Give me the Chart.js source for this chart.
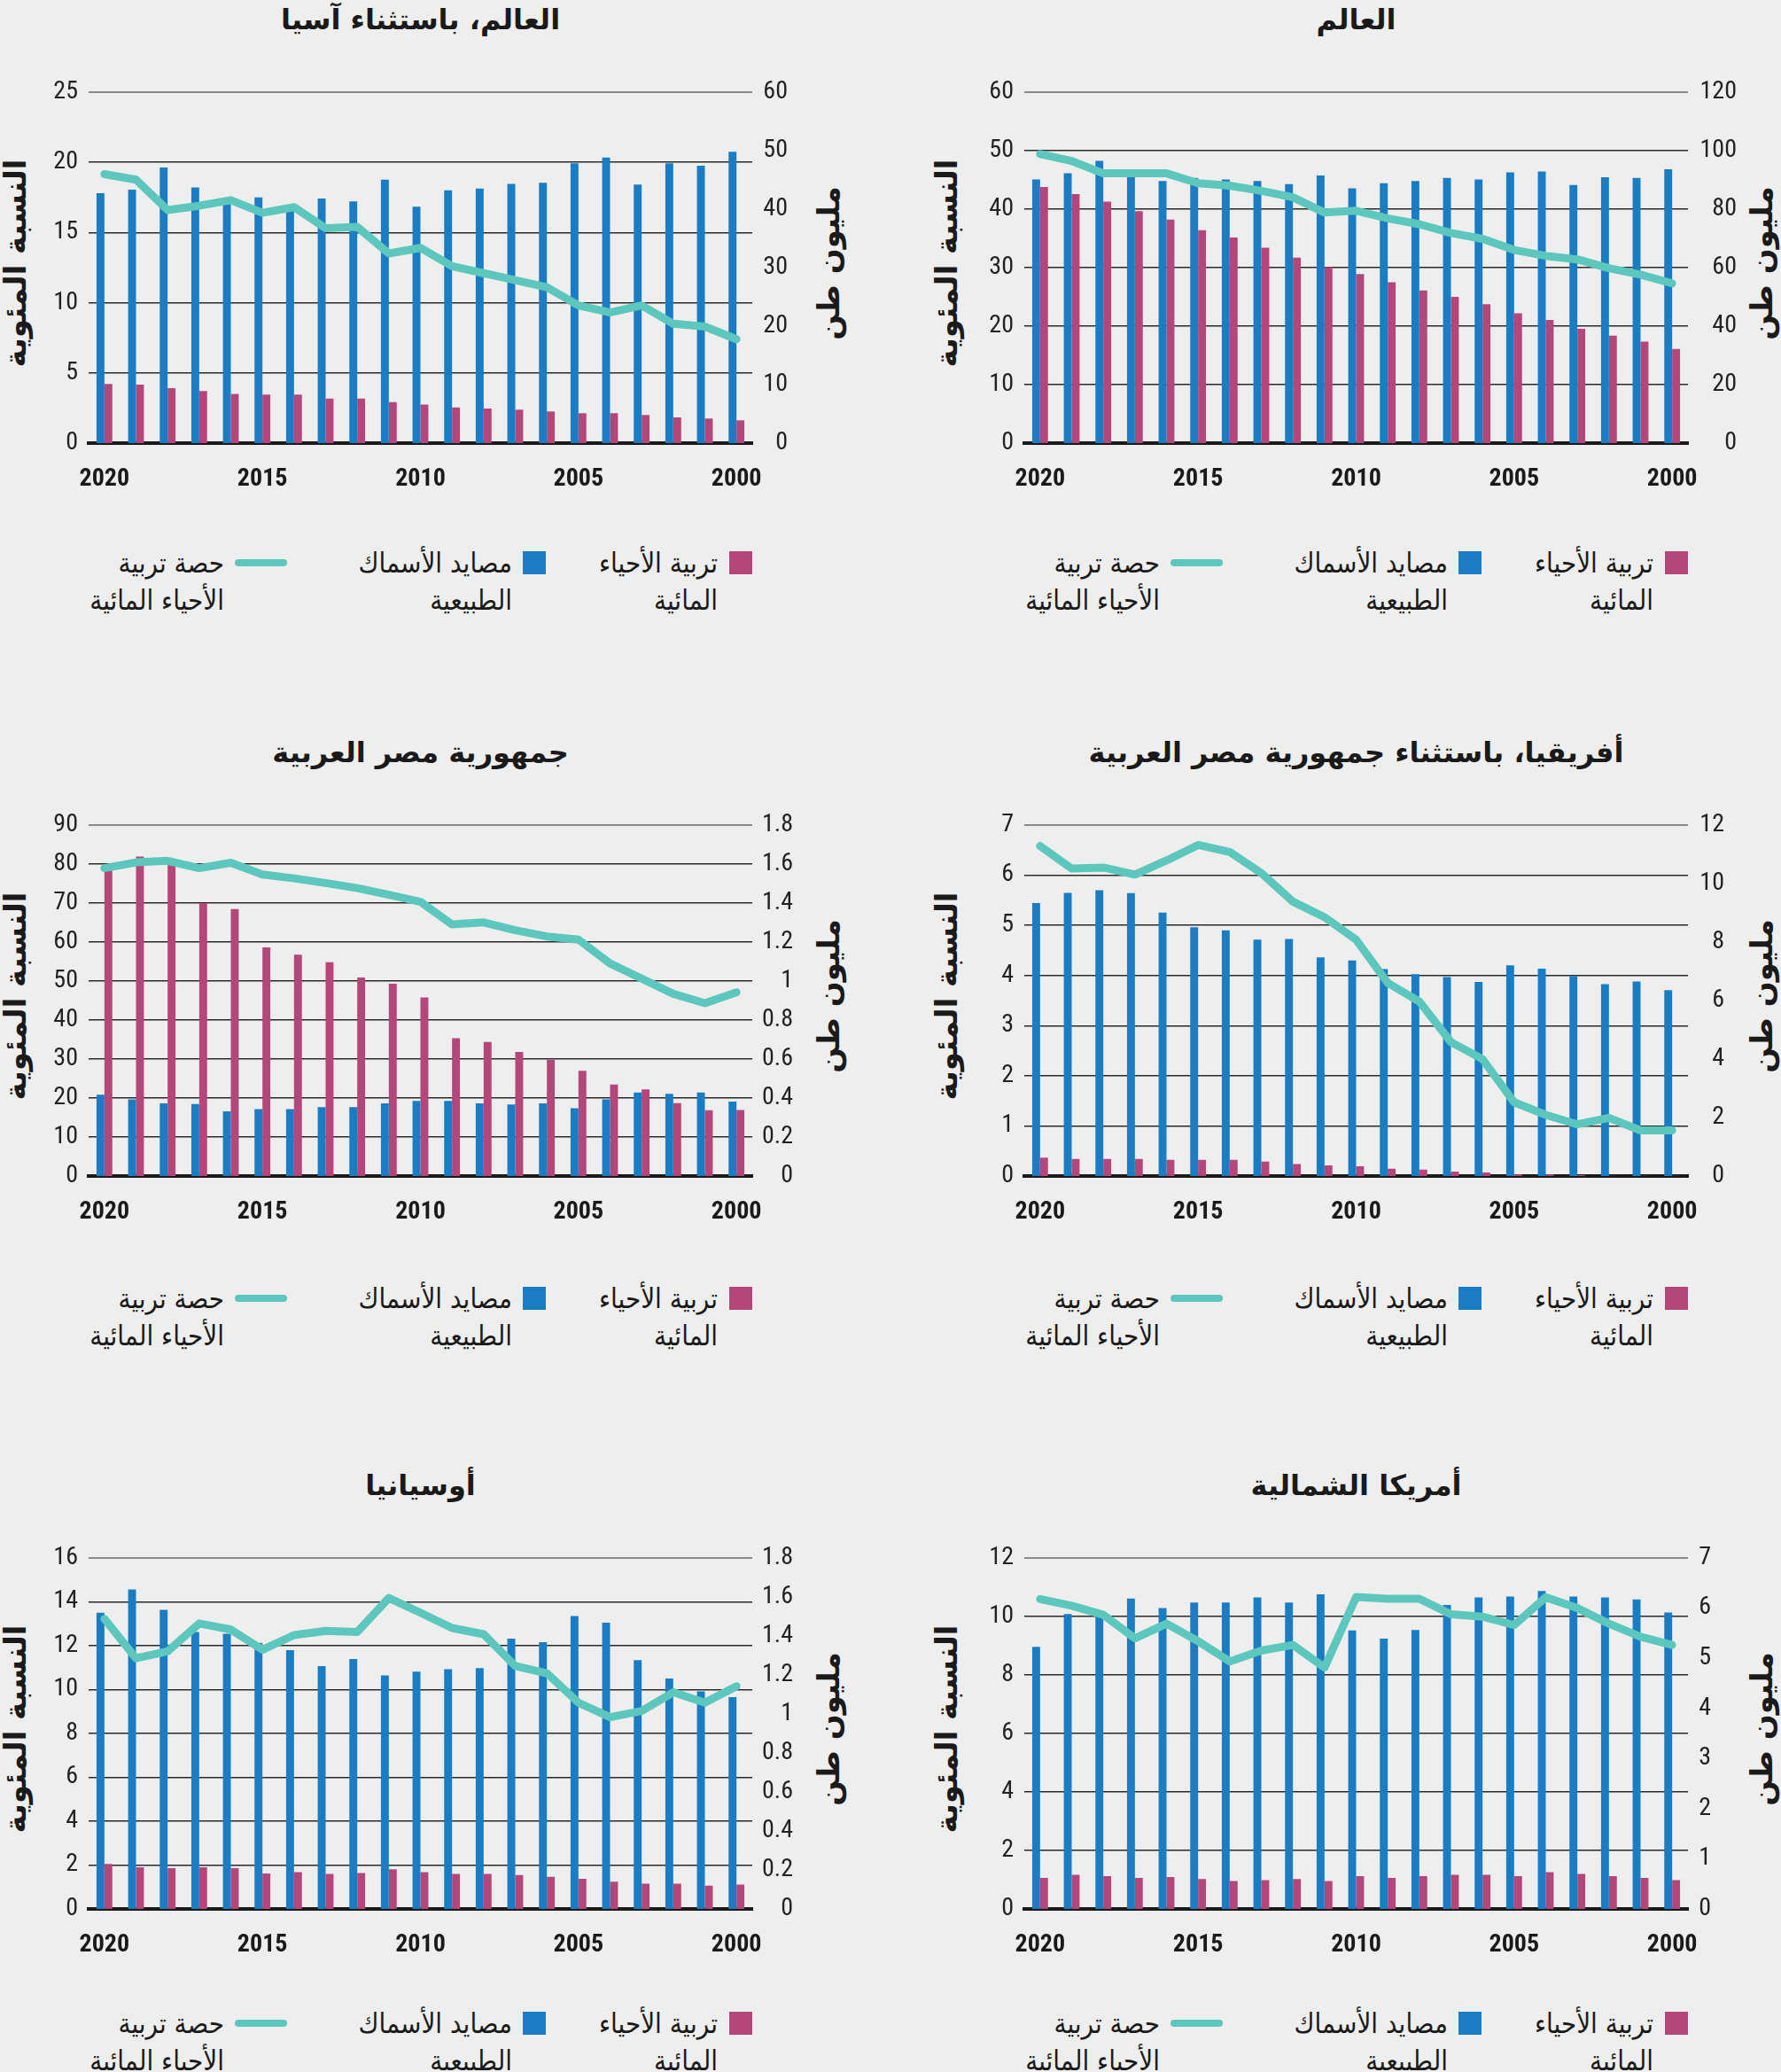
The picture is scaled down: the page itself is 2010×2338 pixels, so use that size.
<!DOCTYPE html>
<html><head><meta charset="utf-8">
<script src="https://cdn.jsdelivr.net/npm/chart.js@4.4.1/dist/chart.umd.min.js"></script>
<style>
html,body{margin:0;padding:0;background:#eeeeee;width:2010px;height:2338px;overflow:hidden;}
canvas{position:absolute;}
.title{position:absolute;font-family:'DejaVu Sans',sans-serif;font-weight:bold;font-size:32px;color:#1a1a1a;white-space:nowrap;transform:translate(-50%,-50%);direction:rtl;}
.ytitle{position:absolute;font-family:'DejaVu Sans',sans-serif;font-weight:bold;font-size:34px;color:#1a1a1a;white-space:nowrap;transform:translate(-50%,-50%) rotate(-90deg);direction:rtl;}
.legtxt{position:absolute;font-family:'DejaVu Sans Condensed','DejaVu Sans',sans-serif;font-size:31px;line-height:42px;color:#1a1a1a;direction:rtl;text-align:right;white-space:nowrap;transform:translateX(-100%);}
.sw{position:absolute;}
</style>
</head><body>
<script>
// Years, left to right as in the picture
const years = [2020,2019,2018,2017,2016,2015,2014,2013,2012,2011,2010,2009,2008,2007,2006,2005,2004,2003,2002,2001,2000];

// World (million tonnes / percent)
const worldCapture = [90.1,92.2,96.5,92.0,89.6,90.6,90.1,89.6,88.5,91.5,87.1,88.8,89.6,90.6,90.1,92.5,92.8,88.2,90.9,90.6,93.6];
const worldAqua    = [87.5,85.1,82.5,79.3,76.4,72.8,70.3,66.8,63.4,60.1,57.8,55.0,52.2,50.0,47.5,44.4,42.1,39.1,36.7,34.7,32.2];
const worldShare   = [49.4,48.2,46.1,46.1,46.1,44.4,44.0,43.1,42.0,39.4,39.7,38.4,37.4,35.9,34.9,33.0,32.0,31.4,29.9,28.8,27.3];

// World excluding Asia
const exAsiaCapture = [42.7,43.3,47.1,43.7,40.8,42.0,40.7,41.8,41.3,45.0,40.4,43.2,43.5,44.3,44.5,47.8,48.8,44.2,47.8,47.4,49.8];
const exAsiaAqua    = [10.1,10.0,9.4,8.9,8.4,8.3,8.3,7.6,7.6,7.0,6.6,6.1,5.9,5.7,5.4,5.1,5.1,4.8,4.4,4.2,3.9];
const exAsiaShare   = [19.15,18.76,16.6,16.9,17.3,16.4,16.8,15.3,15.4,13.5,13.9,12.6,12.1,11.6,11.1,9.8,9.3,9.8,8.5,8.3,7.4];

// Egypt
const egyptCapture = [0.417,0.393,0.372,0.369,0.332,0.343,0.343,0.353,0.353,0.372,0.385,0.385,0.372,0.367,0.372,0.348,0.393,0.428,0.421,0.428,0.382];
const egyptAqua    = [1.582,1.638,1.60,1.399,1.369,1.172,1.135,1.096,1.018,0.986,0.916,0.706,0.687,0.636,0.595,0.539,0.469,0.444,0.374,0.337,0.339];
const egyptShare   = [78.9,80.4,80.8,78.9,80.3,77.3,76.3,75.1,73.8,72.1,70.3,64.5,65.0,63.0,61.4,60.6,54.5,50.6,46.7,44.3,47.1];

// Africa excluding Egypt
const africaCapture = [9.33,9.68,9.77,9.67,9.00,8.50,8.40,8.08,8.10,7.47,7.37,7.07,6.90,6.80,6.63,7.20,7.09,6.83,6.56,6.65,6.35];
const africaAqua    = [0.625,0.583,0.583,0.583,0.55,0.55,0.55,0.49,0.41,0.36,0.33,0.25,0.22,0.15,0.12,0.05,0.05,0.03,0.01,0.01,0.01];
const africaShare   = [6.58,6.13,6.15,6.01,6.29,6.60,6.46,6.04,5.47,5.16,4.71,3.85,3.48,2.67,2.33,1.47,1.22,1.03,1.16,0.91,0.91];

// Oceania
const oceaniaCapture = [1.519,1.638,1.533,1.42,1.411,1.364,1.327,1.245,1.281,1.197,1.216,1.229,1.235,1.386,1.367,1.502,1.467,1.275,1.181,1.115,1.086];
const oceaniaAqua    = [0.230,0.214,0.209,0.214,0.209,0.182,0.189,0.179,0.184,0.203,0.189,0.179,0.179,0.174,0.165,0.155,0.140,0.130,0.130,0.119,0.125];
const oceaniaShare   = [13.22,11.42,11.74,13.01,12.73,11.81,12.48,12.67,12.62,14.17,13.50,12.80,12.52,11.07,10.74,9.40,8.74,9.02,9.87,9.40,10.15];

// North America
const namCapture = [5.225,5.88,5.93,6.19,6.00,6.11,6.11,6.21,6.11,6.27,5.55,5.39,5.56,6.06,6.21,6.23,6.34,6.23,6.21,6.17,5.91];
const namAqua    = [0.617,0.679,0.654,0.617,0.635,0.598,0.555,0.574,0.598,0.555,0.654,0.617,0.654,0.679,0.679,0.654,0.734,0.697,0.654,0.617,0.574];
const namShare   = [10.59,10.36,10.05,9.25,9.75,9.15,8.46,8.83,9.02,8.25,10.66,10.60,10.60,10.07,9.99,9.70,10.65,10.28,9.75,9.30,9.02];

// Text
const panelTitles = ['العالم، باستثناء آسيا','العالم','جمهورية مصر العربية','أفريقيا، باستثناء جمهورية مصر العربية','أوسيانيا','أمريكا الشمالية'];
const leftAxisTitle = 'النسبة المئوية';
const rightAxisTitle = 'مليون طن';
const legendLabels = [['تربية الأحياء','المائية'],['مصايد الأسماك','الطبيعية'],['حصة تربية','الأحياء المائية']];

// Axis ranges [leftMax, leftStep, rightMax, rightStep]
const axisRanges = [[25,5,60,10],[60,10,120,20],[90,10,1.8,0.2],[7,1,12,2],[16,2,1.8,0.2],[12,2,7,1]];

const BLUE = '#1a7dc4', PINK = '#b3477a', TEAL = '#5ec7bd';
const TICKFONT = "'Liberation Sans Narrow','Roboto Condensed','DejaVu Sans Condensed',sans-serif";

const panels = [
  {col:0,row:0,cap:exAsiaCapture,aq:exAsiaAqua,sh:exAsiaShare,rw:40},
  {col:1,row:0,cap:worldCapture,aq:worldAqua,sh:worldShare,rw:55},
  {col:0,row:1,cap:egyptCapture,aq:egyptAqua,sh:egyptShare,rw:46},
  {col:1,row:1,cap:africaCapture,aq:africaAqua,sh:africaShare,rw:41},
  {col:0,row:2,cap:oceaniaCapture,aq:oceaniaAqua,sh:oceaniaShare,rw:46},
  {col:1,row:2,cap:namCapture,aq:namAqua,sh:namShare,rw:26}
];

const PLOT_LEFT = [100,1156], PLOT_W = 749, PLOT_TOP = [94,921,1748], PLOT_H = 406;
const LEG_OFF = [541,544,535];
const LW = 60, TOPPAD = 20, XH = 70;

function fmt(v){ return String(Number(Number(v).toFixed(2))); }

function addDiv(cls, text, x, y){
  const d = document.createElement('div');
  d.className = cls; d.textContent = text;
  d.style.left = x+'px'; d.style.top = y+'px';
  document.body.appendChild(d); return d;
}

panels.forEach((p, i) => {
  const pl = PLOT_LEFT[p.col], pt = PLOT_TOP[p.row], pr = pl + PLOT_W;
  const r = axisRanges[i];
  const cv = document.createElement('canvas');
  const W = LW + PLOT_W + p.rw, H = TOPPAD + PLOT_H + XH;
  cv.width = W; cv.height = H;
  cv.style.left = (pl - LW)+'px'; cv.style.top = (pt - TOPPAD)+'px';
  cv.style.width = W+'px'; cv.style.height = H+'px';
  document.body.appendChild(cv);

  new Chart(cv, {
    data: {
      labels: years,
      datasets: [
        {type:'line', data:p.sh, yAxisID:'y', borderColor:TEAL, borderWidth:9, pointRadius:0, pointHoverRadius:0, tension:0, borderCapStyle:'round', borderJoinStyle:'round', order:0},
        {type:'bar', data:p.cap, yAxisID:'y1', backgroundColor:BLUE, categoryPercentage:0.5, barPercentage:1.0, order:1},
        {type:'bar', data:p.aq, yAxisID:'y1', backgroundColor:PINK, categoryPercentage:0.5, barPercentage:1.0, order:1}
      ]
    },
    options: {
      responsive:false, animation:false, devicePixelRatio:1,
      layout:{padding:{top:TOPPAD,left:0,right:0,bottom:0}},
      plugins:{legend:{display:false}, tooltip:{enabled:false}},
      scales:{
        x:{
          type:'category', offset:true, z:1,
          grid:{display:false, drawTicks:false},
          border:{display:true, color:'#1a1a1a', width:4},
          ticks:{autoSkip:false, maxRotation:0, minRotation:0, padding:0, color:'#1a1a1a',
            font:{family:TICKFONT, size:28, weight:'bold', lineHeight:2.914},
            callback:function(v){ const yv = this.getLabelForValue(v); return (Number(yv)%5===0) ? String(yv) : ''; }},
          afterFit(s){ s.height = XH; }
        },
        y:{
          position:'left', min:0, max:r[0],
          ticks:{stepSize:r[1], padding:12, color:'#222', font:{family:TICKFONT, size:28}, callback:(v)=>fmt(v)},
          grid:{drawTicks:false,
            color:(c)=> c.tick.value===r[0] ? '#8a8a8a' : (c.tick.value===0 ? 'rgba(0,0,0,0)' : '#2a2a2a'),
            lineWidth:(c)=> c.tick.value===r[0] ? 2 : 1.4},
          border:{display:false},
          afterFit(s){ s.width = LW; }
        },
        y1:{
          position:'right', min:0, max:r[2],
          ticks:{stepSize:r[3], padding:13, crossAlign:'far', color:'#222', font:{family:TICKFONT, size:28}, callback:(v)=>fmt(v)},
          grid:{display:false, drawTicks:false},
          border:{display:false},
          afterFit(s){ s.width = p.rw; }
        }
      }
    }
  });

  // Title
  addDiv('title', panelTitles[i], pl + PLOT_W/2, pt - 72);
  // Axis titles
  const lx = p.col===0 ? 17 : 1068, rx = p.col===0 ? 935 : 1988;
  addDiv('ytitle', leftAxisTitle, lx, pt + PLOT_H/2);
  addDiv('ytitle', rightAxisTitle, rx, pt + PLOT_H/2);

  // Legend
  const ly = pt + LEG_OFF[p.row];
  const sw1 = document.createElement('div'); sw1.className='sw';
  Object.assign(sw1.style,{left:(pr-26)+'px',top:(ly-13)+'px',width:'26px',height:'26px',background:PINK});
  document.body.appendChild(sw1);
  const sw2 = document.createElement('div'); sw2.className='sw';
  Object.assign(sw2.style,{left:(pr-259)+'px',top:(ly-13)+'px',width:'26px',height:'26px',background:BLUE});
  document.body.appendChild(sw2);
  const sw3 = document.createElement('div'); sw3.className='sw';
  Object.assign(sw3.style,{left:(pr-584)+'px',top:(ly-4)+'px',width:'59px',height:'8px',background:TEAL,borderRadius:'4px'});
  document.body.appendChild(sw3);
  const rights = [pr-39, pr-271, pr-596];
  legendLabels.forEach((lab, k) => {
    const d = document.createElement('div'); d.className='legtxt';
    d.innerHTML = lab[0] + '<br>' + lab[1];
    d.style.left = rights[k]+'px'; d.style.top = (ly-21)+'px';
    document.body.appendChild(d);
  });
});
</script>
</body></html>
